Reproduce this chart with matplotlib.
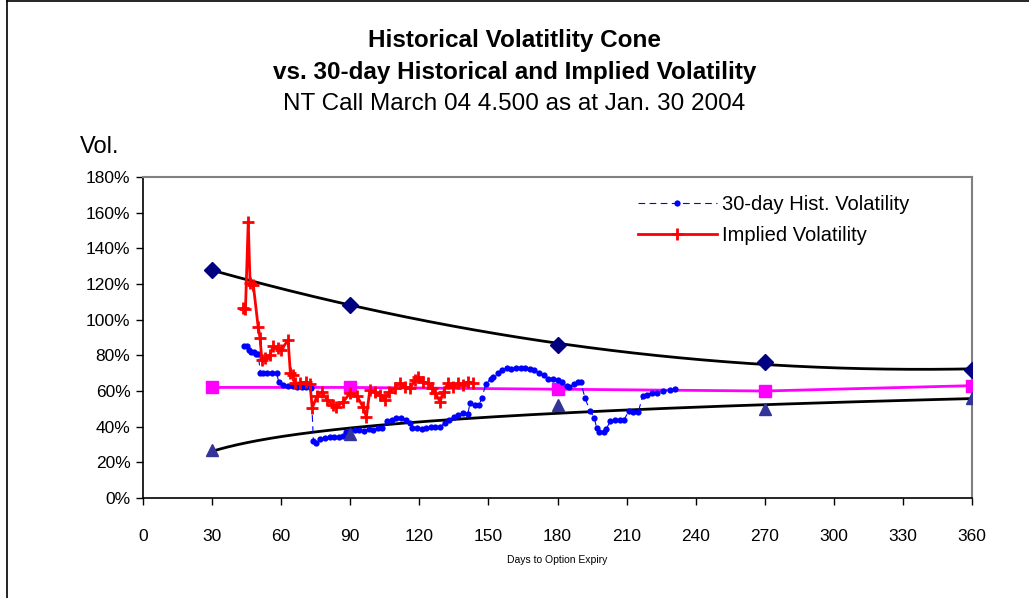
import numpy as np
import matplotlib
matplotlib.use("Agg")
import matplotlib.pyplot as plt
from matplotlib.lines import Line2D
from matplotlib.ticker import FuncFormatter

plt.rcParams['font.family'] = ['Liberation Sans', 'DejaVu Sans']

# Cone data
cone_days = [30, 90, 180, 270, 360]
cone_max = [128, 108, 86, 76, 72]
cone_min = [27, 36, 52, 50, 56]
cone_mid = [62, 62, 61, 60, 63]

# 30-day historical volatility
hv_days = [44, 45, 46, 47, 48, 49, 50, 51, 52, 54, 56, 58, 59, 61, 63, 65, 67, 69, 71, 73,
           74, 75, 77, 79, 81, 83, 85, 87, 88, 90, 92, 94, 96, 98, 100, 102, 104, 106, 108,
           110, 112, 114, 116, 117, 119, 121, 123, 125, 127, 129, 131, 133, 135, 137, 139,
           141, 142, 144, 146, 147, 149, 151, 152, 154, 156, 158, 160, 162, 164, 166, 168,
           170, 172, 174, 176, 178, 180, 182, 184, 185, 187, 189, 190, 192, 194, 196, 197,
           198, 200, 201, 203, 205, 207, 209, 211, 213, 215, 217, 219, 221, 223, 226, 229, 231]
hv_vals = [85, 85, 83, 82, 82, 81, 81, 70, 70, 70, 70, 70, 65, 63.5, 63, 63, 62.5, 62, 62, 61.5,
           32, 31, 33, 33.5, 34, 34, 34, 35, 37, 37.5, 38, 38, 37.5, 38.5, 38, 39, 39, 43, 44,
           45, 45, 44, 42, 39.5, 39, 38.5, 39, 40, 40, 40, 42, 44, 45.5, 46.5, 47.5,
           47, 53, 52, 52, 56, 64, 67, 68, 70, 72, 73, 72.5, 73, 73, 73, 72.5,
           72, 70, 69, 67, 67, 66, 65, 63, 62, 64, 65, 65, 56, 49, 45, 39,
           37, 37, 38.5, 43, 43.5, 44, 44, 49, 48, 48, 57, 58, 59, 59, 60, 60.5, 61]

# Implied volatility
iv_days = [43.5, 44.5, 45.7, 46.5, 47.9, 50, 50.8, 51.6, 53, 55, 56.5, 58.6, 60, 63, 64, 65,
           66, 68, 71, 72.5, 73.5, 75.5, 77.7, 80, 82.5, 84, 87, 90, 93, 95.6, 97, 98.5,
           100.7, 103, 105, 107, 109.4, 111.6, 113.8, 116, 118, 119.6, 121.6, 123.8, 125.5,
           126.8, 129, 130.5, 132.5, 134.6, 136.8, 139, 141, 143.3]
iv_vals = [106.5, 106, 155, 120.5, 119.5, 96, 90, 77.5, 78.5, 80, 85, 84, 83, 88.6, 70, 69,
           64.5, 64.5, 65, 64, 50.5, 57, 59.5, 55, 52, 51, 54, 59, 57, 51, 45.5, 60.5,
           59.5, 58, 55, 59.5, 61.5, 64.5, 62, 61.5, 66, 68, 65, 64.5, 61.5,
           59, 54, 59.5, 64.5, 62, 64.5, 63.5, 65, 64.5]

fig = plt.figure(figsize=(10.29, 5.98), dpi=100)
ax = fig.add_axes([143/1029, 1-498/598, (972-143)/1029, (498-177)/598])

# trendlines
xx = np.linspace(30, 360, 300)
pu = np.polyfit(cone_days, cone_max, 2)
ax.plot(xx, np.polyval(pu, xx), color='black', lw=2, zorder=2)
pl = np.polyfit(np.log(cone_days), cone_min, 1)
ax.plot(xx, np.polyval(pl, np.log(xx)), color='black', lw=2, zorder=2)

ax.plot(cone_days, cone_max, linestyle='none', marker='D', ms=8, color='#000080', zorder=4)
ax.plot(cone_days, cone_min, linestyle='none', marker='^', ms=9, color='#333399', zorder=4)
ax.plot(cone_days, cone_mid, color='#FF00FF', lw=2, marker='s', ms=8, zorder=3)

ax.plot(hv_days, hv_vals, color='#0000FF', lw=0.8, linestyle=(0, (6, 4)), marker='o', ms=4.5,
        markeredgewidth=0, label='30-day Hist. Volatility', zorder=3)
ax.plot(iv_days, iv_vals, color='#FF0000', lw=2, marker='+', ms=9, markeredgewidth=2,
        label='Implied Volatility', zorder=5)

ax.set_xlim(0, 360)
ax.set_ylim(0, 180)
ax.set_xticks(range(0, 361, 30))
ax.set_yticks(range(0, 181, 20))
ax.yaxis.set_major_formatter(FuncFormatter(lambda v, p: f"{int(v)}%"))
ax.tick_params(direction='out', length=5, width=1, labelsize=12.5, colors='black', pad=4)
ax.tick_params(axis='x', pad=17)
for s in ['top', 'right']:
    ax.spines[s].set_color('#808080')
    ax.spines[s].set_linewidth(1.5)
for s in ['left', 'bottom']:
    ax.spines[s].set_color('black')
    ax.spines[s].set_linewidth(1.2)

ax.set_xlabel('Days to Option Expiry', fontsize=7.5, labelpad=8)

leg = ax.legend(loc='upper left', bbox_to_anchor=((638-143)/829, 1-(195-177)/321), frameon=False,
                fontsize=14.5, handlelength=3.9, handletextpad=0.25, labelspacing=0.62,
                borderaxespad=0, borderpad=0)

fig.text(0.5, 1-41/598, 'Historical Volatitlity Cone', ha='center', va='center',
         fontsize=17.5, fontweight='bold')
fig.text(0.5, 1-73/598, 'vs. 30-day Historical and Implied Volatility', ha='center', va='center',
         fontsize=17.5, fontweight='bold')
fig.text(0.5, 1-104/598, 'NT Call March 04 4.500 as at Jan. 30 2004', ha='center', va='center',
         fontsize=17.5)
fig.text(80/1029, 1-147/598, 'Vol.', ha='left', va='center', fontsize=17)

fig.add_artist(Line2D([7/1029, 1], [1-1/598, 1-1/598], color='black', lw=1.2, transform=fig.transFigure))
fig.add_artist(Line2D([7/1029, 7/1029], [0, 1-1/598], color='black', lw=1.2, transform=fig.transFigure))

fig.savefig('out.png', dpi=100)
